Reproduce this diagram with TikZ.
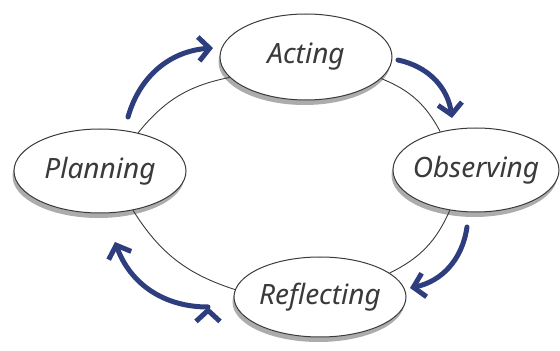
\documentclass[tikz,border=0pt]{standalone}
\usepackage{fontspec}
\setsansfont{Noto Sans}
\usepackage{tikz}
\usetikzlibrary{arrows.meta,shapes.geometric,shadows,positioning}
\definecolor{navyarrow}{HTML}{2D3D7D}
\definecolor{inkgray}{HTML}{3A3A3A}

\begin{document}
\begin{tikzpicture}[x=1pt,y=1pt,
		stage/.style={ellipse,draw=inkgray,line width=1pt,fill=white,minimum width=172pt,minimum height=84pt,inner sep=-12pt,
			font=\sffamily\itshape\fontsize{28}{32}\selectfont,text=inkgray,
			general shadow={fill=gray!65,shadow xshift=-1.5pt,shadow yshift=-5pt}},
		ring/.style={draw=inkgray,line width=0.9pt},
		turn/.style={draw=navyarrow,line width=5pt,line cap=round,-{Straight Barb[length=11pt,width=24pt]}}]
			\useasboundingbox (0,0) rectangle (560,351);
			\node[stage,minimum height=86pt] (n_act) at (306,294) {Acting};
			\node[stage] (n_plan) at (100,180) {Planning};
			\node[stage,minimum width=166pt] (n_obs) at (476,181) {Observing};
			\node[stage,minimum height=80pt] (n_refl) at (320,54) {Reflecting};
			\path[ring]
				(n_plan.45) edge [bend left=20] (n_act.195)
				(n_act.-16) edge [bend left=20] (n_obs.133)
				(n_obs.237) edge [bend left=20] (n_refl.19)
				(n_refl.175) edge [bend left=20] (n_plan.-50);
			% outer arrows
			\coordinate (t_1) at (128,234); \coordinate (h_1) at (213,303);
			\coordinate (t_2) at (398,291); \coordinate (h_2) at (452,233);
			\coordinate (t_3) at (467,124); \coordinate (h_3) at (410,63);
			\coordinate (t_4) at (208,44);  \coordinate (h_4) at (115,109);
			\path[turn]
				(t_1) edge [bend left=35] (h_1)
				(t_2) edge [bend left=35] (h_2)
				(t_3) edge [bend left=35] (h_3)
				(t_4) edge [bend left=35] (h_4);
		\end{tikzpicture}
\end{document}
